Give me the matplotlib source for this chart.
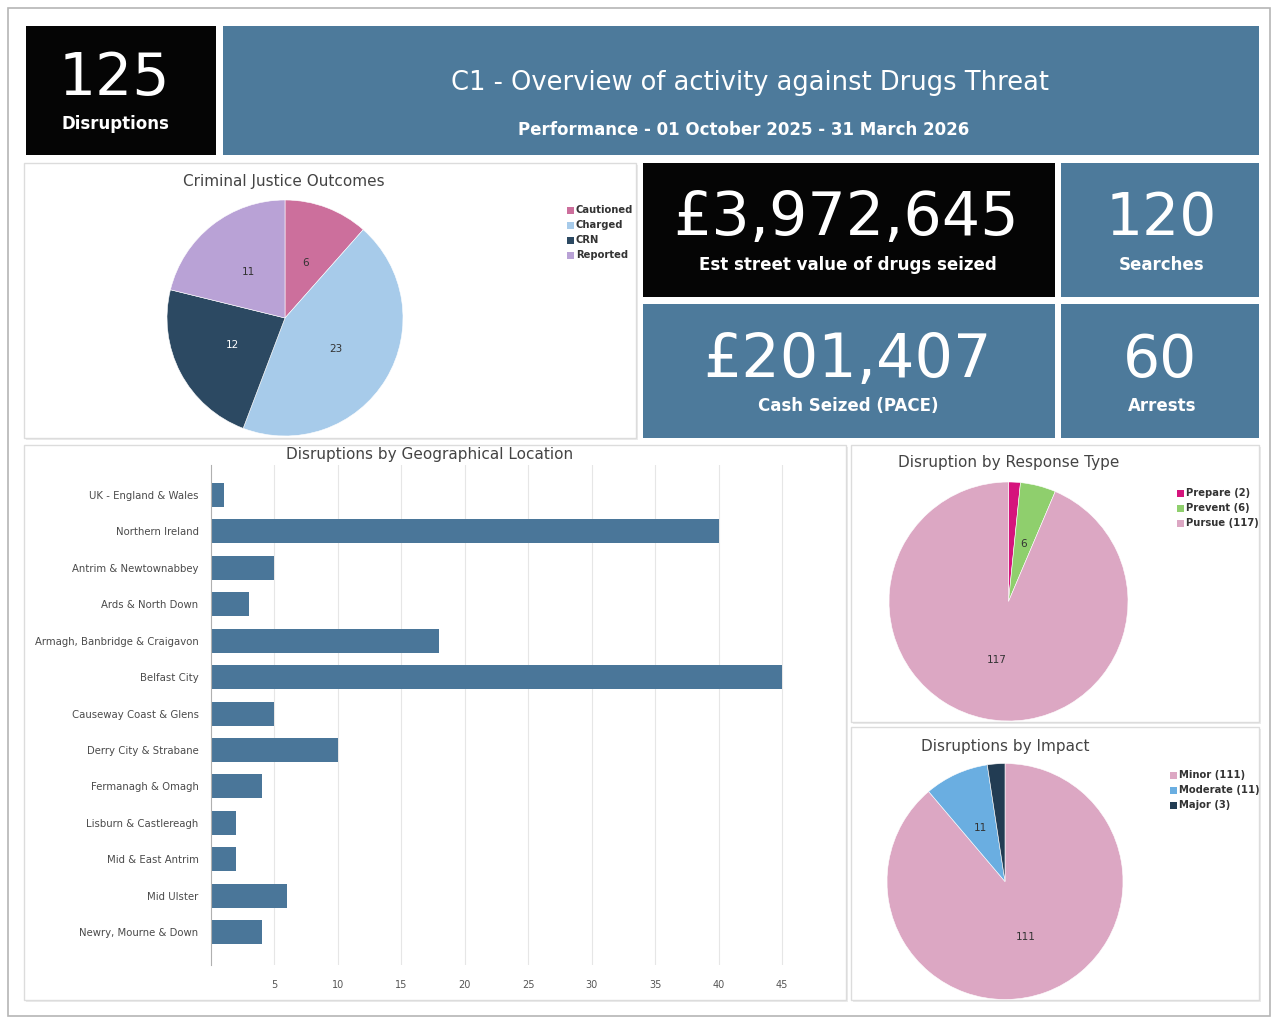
import matplotlib.pyplot as plt
from matplotlib.patches import Rectangle

W, H = 1275, 1019

# KPI figures
total_disruptions = "125"
street_value = "£3,972,645"
searches = "120"
cash_seized = "£201,407"
arrests = "60"

# Criminal Justice Outcomes
cjo_labels = ["Cautioned", "Charged", "CRN", "Reported"]
cjo_values = [6, 23, 12, 11]
cjo_colors = ["#cc6f9c", "#a7cbea", "#2c4962", "#b9a2d6"]

# Geographical location
locations = ["UK - England & Wales", "Northern Ireland", "Antrim & Newtownabbey",
             "Ards & North Down", "Armagh, Banbridge & Craigavon", "Belfast City",
             "Causeway Coast & Glens", "Derry City & Strabane", "Fermanagh & Omagh",
             "Lisburn & Castlereagh", "Mid & East Antrim", "Mid Ulster",
             "Newry, Mourne & Down"]
loc_values = [1, 40, 5, 3, 18, 45, 5, 10, 4, 2, 2, 6, 4]

# Response type
resp_labels = ["Prepare", "Prevent", "Pursue"]
resp_values = [2, 6, 117]
resp_colors = ["#d5147c", "#8fcf6d", "#dca7c3"]

# Impact
imp_labels = ["Minor", "Moderate", "Major"]
imp_values = [111, 11, 3]
imp_colors = ["#dca7c3", "#6aaee1", "#223c53"]

BLUE = "#4d7a9b"
BLACK = "#050505"

fig = plt.figure(figsize=(W / 100, H / 100), dpi=100)
fig.patch.set_facecolor("white")


def frac(x0, y0, x1, y1):
    return [x0 / W, 1 - y1 / H, (x1 - x0) / W, (y1 - y0) / H]


bg = fig.add_axes([0, 0, 1, 1])
bg.set_xlim(0, W)
bg.set_ylim(H, 0)
bg.axis("off")

# outer frame
bg.add_patch(Rectangle((8, 8), 1262, 1008, fill=False, ec="#b5b5b5", lw=1.2))


def box(x0, y0, x1, y1, fc, ec="none"):
    bg.add_patch(Rectangle((x0, y0), x1 - x0, y1 - y0, fc=fc, ec=ec, lw=1))


def panel(x0, y0, x1, y1):
    box(x0 + 2, y0 + 2, x1 + 2, y1 + 2, "#ececec")
    box(x0, y0, x1, y1, "white", "#dcdcdc")


box(26, 26, 216, 155, BLACK)
box(223, 26, 1259, 155, BLUE)
panel(24, 163, 636, 438)
box(643, 163, 1055, 297, BLACK)
box(1061, 163, 1259, 297, BLUE)
box(643, 304, 1055, 438, BLUE)
box(1061, 304, 1259, 438, BLUE)
panel(24, 445, 846, 1000)
panel(851, 445, 1259, 722)
panel(851, 727, 1259, 1000)

big = dict(color="white", ha="center", va="center", fontsize=42)
sub = dict(color="white", ha="center", va="center", fontsize=12, fontweight="bold")

bg.text(114, 78, total_disruptions, **big)
bg.text(115, 124, "Disruptions", **sub)
bg.text(750, 83, "C1 - Overview of activity against Drugs Threat",
        color="white", ha="center", va="center", fontsize=18.5)
bg.text(744, 130, "Performance - 01 October 2025 - 31 March 2026", **sub)
bg.text(846, 218, street_value, **dict(big, fontsize=43.5))
bg.text(848, 265, "Est street value of drugs seized", **sub)
bg.text(1161, 218, searches, **big)
bg.text(1162, 265, "Searches", **sub)
bg.text(847, 360, cash_seized, **dict(big, fontsize=43.5))
bg.text(848, 406, "Cash Seized (PACE)", **sub)
bg.text(1160, 360, arrests, **big)
bg.text(1162, 406, "Arrests", **sub)

title = dict(color="#444444", ha="center", va="center", fontsize=11)
bg.text(284, 181, "Criminal Justice Outcomes", **title)
bg.text(430, 455, "Disruptions by Geographical Location", **title)
bg.text(1009, 463, "Disruption by Response Type", **title)
bg.text(1005, 746, "Disruptions by Impact", **title)


def legend(x, y, labels, colors, step=15):
    for i, (lab, col) in enumerate(zip(labels, colors)):
        yy = y + i * step
        bg.add_patch(Rectangle((x, yy - 3.5), 7, 7, fc=col, ec="none"))
        bg.text(x + 9, yy, lab, ha="left", va="center", fontsize=7.2,
                fontweight="bold", color="#333333")


legend(567, 210, cjo_labels, cjo_colors)
legend(1177, 493, [f"{l} ({v})" for l, v in zip(resp_labels, resp_values)], resp_colors)
legend(1170, 775, [f"{l} ({v})" for l, v in zip(imp_labels, imp_values)], imp_colors)


def draw_pie(cx, cy, r, values, colors, light_text=()):
    ax = fig.add_axes(frac(cx - r, cy - r, cx + r, cy + r))
    wedges, _, autotexts = ax.pie(
        values, colors=colors, startangle=90, counterclock=False,
        autopct=lambda p: f"{round(p * sum(values) / 100):d}" if p * sum(values) / 100 >= 5 else "",
        pctdistance=0.5, wedgeprops=dict(ec="white", lw=0.4),
        textprops=dict(fontsize=7.5, color="#333333"))
    for i in light_text:
        autotexts[i].set_color("white")
    ax.set_xlim(-1, 1)
    ax.set_ylim(-1, 1)
    ax.set_aspect("equal")
    return ax


draw_pie(285, 318, 118, cjo_values, cjo_colors, light_text=(2,))
draw_pie(1008.5, 601.5, 119.5, resp_values, resp_colors)
draw_pie(1005, 881.5, 118, imp_values, imp_colors)

# bar chart
bax = fig.add_axes(frac(211, 465, 820, 965))
ypos = list(range(len(locations)))
bax.barh(ypos, loc_values, height=0.66, color="#4a7699")
bax.set_yticks(ypos)
bax.set_yticklabels(locations)
bax.set_ylim(12.9, -0.82)
bax.set_xlim(0, 48)
bax.set_xticks([5, 10, 15, 20, 25, 30, 35, 40, 45])
bax.grid(axis="x", color="#e6e6e6", lw=0.8)
bax.set_axisbelow(True)
for s in ["top", "right", "bottom"]:
    bax.spines[s].set_visible(False)
bax.spines["left"].set_color("#b0b0b0")
bax.tick_params(axis="y", length=0, pad=9, labelsize=7.3, labelcolor="#4a4a4a")
bax.tick_params(axis="x", length=0, pad=11, labelsize=7, labelcolor="#555555")
bax.set_facecolor("none")

fig.savefig("out.png", dpi=100)
